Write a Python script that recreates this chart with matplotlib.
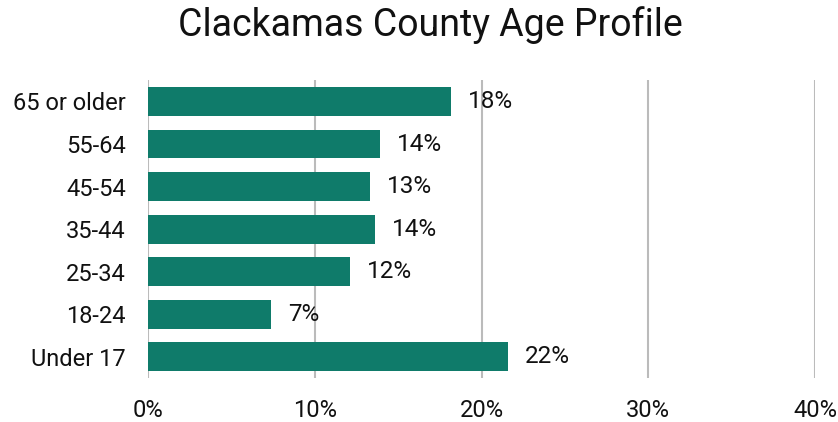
import matplotlib
matplotlib.use("Agg")
import matplotlib.pyplot as plt

categories = ["Under 17", "18-24", "25-34", "35-44", "45-54", "55-64", "65 or older"]
values = [21.6, 7.4, 12.1, 13.6, 13.3, 13.9, 18.2]
labels = ["22%", "7%", "12%", "14%", "13%", "14%", "18%"]
xticks = [0, 10, 20, 30, 40]
xtick_labels = ["0%", "10%", "20%", "30%", "40%"]

plt.rcParams['font.family'] = ['Roboto', 'DejaVu Sans']

fig = plt.figure(figsize=(8.38, 4.22), dpi=100)
ax = fig.add_axes([0.1766, 0.104, 0.7960, 0.706])

color = "#0f7b6a"
ax.barh(range(len(categories)), values, height=0.68, color=color, zorder=3)
for i, (v, lab) in enumerate(zip(values, labels)):
    ax.text(v + 1.0, i, lab, va="center", ha="left", fontsize=17.5, color="#111111", zorder=4)

ax.set_xlim(0, 40)
ax.set_ylim(-0.5, len(categories) - 0.5)
ax.set_yticks(range(len(categories)))
ax.set_yticklabels(categories, fontsize=17, color="#111111")
ax.set_xticks(xticks)
ax.set_xticklabels(xtick_labels, fontsize=17, color="#111111")
ax.tick_params(axis="both", length=0)
ax.tick_params(axis="y", pad=16)
ax.tick_params(axis="x", pad=15)
ax.grid(axis="x", color="#bbbbbb", linewidth=1.5, zorder=0)
for s in ax.spines.values():
    s.set_visible(False)

fig.text(0.513, 0.94, "Clackamas County Age Profile", ha="center", va="center", fontsize=27, color="#111111")

fig.savefig("out.png", dpi=100)
